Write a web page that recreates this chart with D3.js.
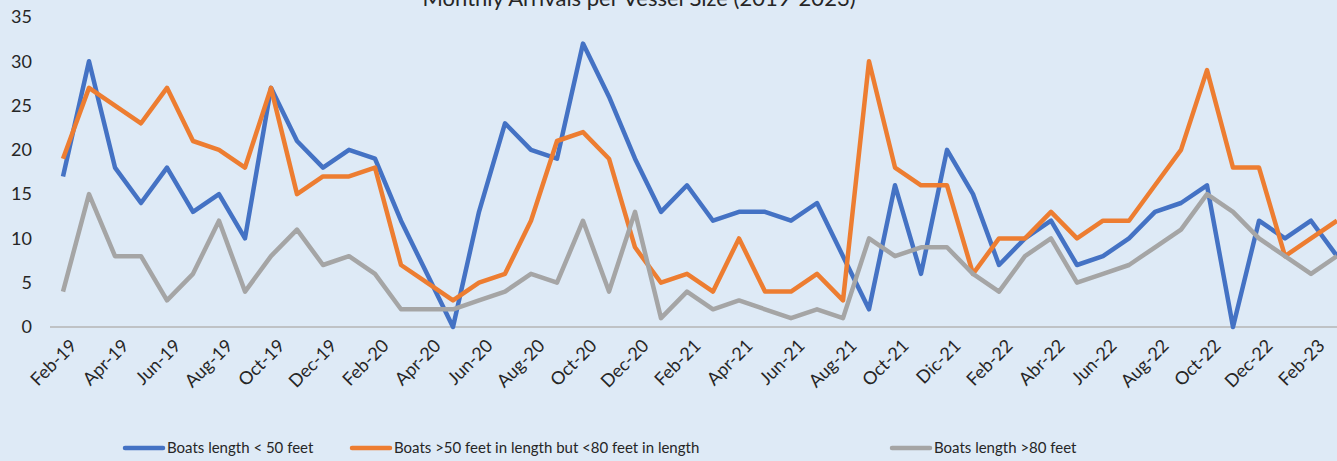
<!DOCTYPE html>
<html>
<head>
<meta charset="utf-8">
<script src="https://cdn.jsdelivr.net/npm/d3@7"></script>
<style>
  html, body { margin: 0; padding: 0; background: #deeaf6; }
  #chart { width: 1337px; height: 461px; }
  text { font-family: Lato, "Open Sans", sans-serif; fill: #262626; }
</style>
</head>
<body>
<div id="chart"></div>
<script>
const months = [
  "Feb-19", "Mar-19", "Apr-19", "May-19", "Jun-19", "Jul-19", "Aug-19", "Sep-19", "Oct-19", "Nov-19", "Dec-19",
  "Jan-20", "Feb-20", "Mar-20", "Apr-20", "May-20", "Jun-20", "Jul-20", "Aug-20", "Sep-20", "Oct-20", "Nov-20", "Dec-20",
  "Jan-21", "Feb-21", "Mar-21", "Apr-21", "May-21", "Jun-21", "Jul-21", "Aug-21", "Sep-21", "Oct-21", "Nov-21", "Dic-21",
  "Ene-22", "Feb-22", "Mar-22", "Abr-22", "May-22", "Jun-22", "Jul-22", "Aug-22", "Sep-22", "Oct-22", "Nov-22", "Dec-22",
  "Jan-23", "Feb-23", "Mar-23"
];

const under50 = [17, 30, 18, 14, 18, 13, 15, 10, 27, 21, 18, 20, 19, 12, 6, 0, 13, 23, 20, 19, 32, 26, 19,
  13, 16, 12, 13, 13, 12, 14, 8, 2, 16, 6, 20, 15, 7, 10, 12, 7, 8, 10, 13, 14, 16, 0, 12, 10, 12, 8];

const between50and80 = [19, 27, 25, 23, 27, 21, 20, 18, 27, 15, 17, 17, 18, 7, 5, 3, 5, 6, 12, 21, 22, 19, 9,
  5, 6, 4, 10, 4, 4, 6, 3, 30, 18, 16, 16, 6, 10, 10, 13, 10, 12, 12, 16, 20, 29, 18, 18, 8, 10, 12];

const over80 = [4, 15, 8, 8, 3, 6, 12, 4, 8, 11, 7, 8, 6, 2, 2, 2, 3, 4, 6, 5, 12, 4, 13,
  1, 4, 2, 3, 2, 1, 2, 1, 10, 8, 9, 9, 6, 4, 8, 10, 5, 6, 7, 9, 11, 15, 13, 10, 8, 6, 8];

const yTicks = [0, 5, 10, 15, 20, 25, 30, 35];

const series = [
  {name: "Boats length < 50 feet", values: under50, color: "#4472c4"},
  {name: "Boats >50 feet in length but <80 feet in length", values: between50and80, color: "#ed7d31"},
  {name: "Boats length >80 feet", values: over80, color: "#a5a5a5"},
];

const width = 1337;
const height = 461;

const svg = d3.select("#chart").append("svg")
  .attr("width", width)
  .attr("height", height);

svg.append("rect")
  .attr("width", width)
  .attr("height", height)
  .attr("fill", "#deeaf6");

// категории между делениями, как в Excel
const x = d3.scaleBand()
  .domain(months)
  .range([50, 1350]);

const y = d3.scaleLinear()
  .domain([0, 35])
  .range([327, 17]);

const cx = m => x(m) + x.bandwidth() / 2;

// title (top is cut off in the original)
svg.append("text")
  .attr("x", 639)
  .attr("y", 6)
  .attr("text-anchor", "middle")
  .style("font-size", "22px")
  .text("Monthly Arrivals per Vessel Size (2019-2023)");

// y labels
svg.append("g")
  .selectAll("text")
  .data(yTicks).enter()
  .append("text")
  .attr("x", 32)
  .attr("y", d => y(d))
  .attr("dy", "0.35em")
  .attr("text-anchor", "end")
  .style("font-size", "18px")
  .text(d => d);

// x axis line
svg.append("line")
  .attr("x1", 50)
  .attr("x2", width)
  .attr("y1", y(0))
  .attr("y2", y(0))
  .attr("stroke", "#b4b4b4")
  .attr("stroke-width", 1.5);

// x labels, every second month
svg.append("g")
  .selectAll("text")
  .data(months.filter((m, i) => i % 2 === 0)).enter()
  .append("text")
  .attr("transform", d => `translate(${cx(d) + 6}, ${y(0) + 11}) rotate(-45)`)
  .attr("text-anchor", "end")
  .attr("dy", "0.7em")
  .style("font-size", "18px")
  .text(d => d);

const line = d3.line()
  .x((d, i) => cx(months[i]))
  .y(d => y(d));

svg.append("g")
  .selectAll("path")
  .data(series).enter()
  .append("path")
  .attr("d", s => line(s.values))
  .attr("fill", "none")
  .attr("stroke", s => s.color)
  .attr("stroke-width", 4.5)
  .attr("stroke-linejoin", "round");

// legend
const legendX = [125, 352, 892];

const legend = svg.append("g")
  .selectAll("g")
  .data(series).enter()
  .append("g")
  .attr("transform", (s, i) => `translate(${legendX[i]}, 448)`);

legend.append("line")
  .attr("x1", 0)
  .attr("x2", 38)
  .attr("stroke", s => s.color)
  .attr("stroke-width", 4.5)
  .attr("stroke-linecap", "round");

legend.append("text")
  .attr("x", 42)
  .attr("dy", "0.35em")
  .style("font-size", "15px")
  .text(s => s.name);
</script>
</body>
</html>
